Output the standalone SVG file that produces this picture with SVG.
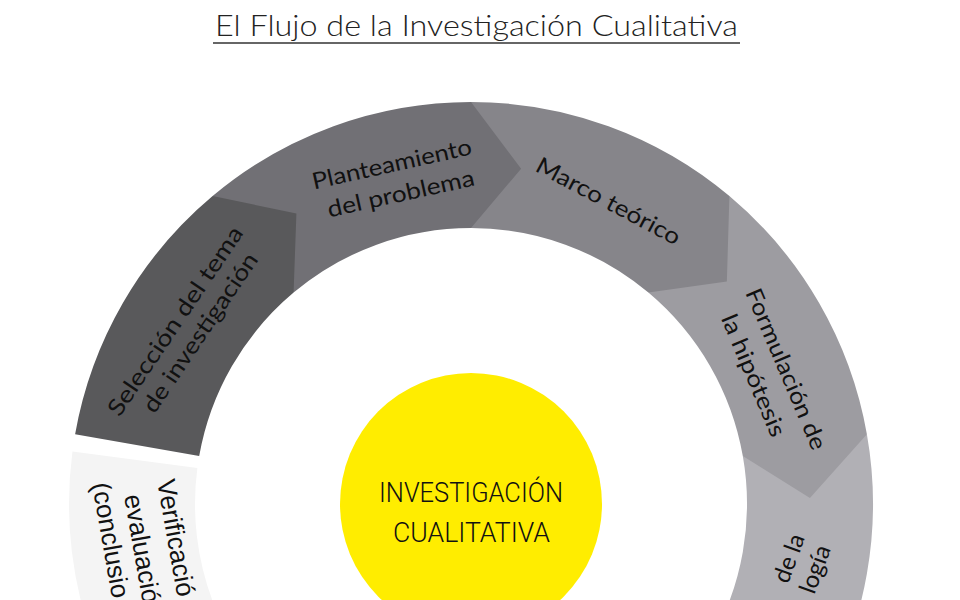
<svg xmlns="http://www.w3.org/2000/svg" width="960" height="600" viewBox="0 0 960 600">
<style>
.lbl{font-family:Lato,"Noto Sans","DejaVu Sans",sans-serif;font-weight:400;font-size:23px;fill:#111;text-anchor:middle}
.lbl2{font-family:"Liberation Sans",Arial,sans-serif;font-size:26px;fill:#111}
.title{font-family:Lato,"Open Sans","DejaVu Sans",sans-serif;font-weight:300;font-size:30px;fill:#222}
.ctr{font-family:"Liberation Sans Narrow","Roboto","Liberation Sans",sans-serif;font-weight:300;font-size:28px;fill:#111;text-anchor:middle}
</style>
<rect width="960" height="600" fill="#ffffff"/>
<g id="title">
<text class="title" x="215" y="36" textLength="523" lengthAdjust="spacingAndGlyphs">El Flujo de la Investigación Cualitativa</text>
<line x1="213" y1="43" x2="740" y2="43" stroke="#333" stroke-width="1.5"/>
</g>
<g id="connectors"></g>
<g id="node-verificacion">
<path d="M212.60,811.95 A402,402 0 0 1 72.44,451.53 L197.36,467.97 A276,276 0 0 0 293.59,715.43 Z" fill="#f4f4f4"/>
<text class="lbl2" transform="translate(157,481) rotate(80)">Verificació</text>
<text class="lbl2" transform="translate(124,496) rotate(80)">evaluació</text>
<text class="lbl2" transform="translate(92,484) rotate(80)">(conclusio</text>
</g>
<g id="node-metodologia">
<path d="M866.89,434.19 A402,402 0 0 1 819.14,705 L734.45,717.34 L710.02,642 A276,276 0 0 0 742.81,456.07 Z" fill="#b1b0b5"/>
<text class="lbl" style="font-size:24px" transform="translate(791,559) rotate(-70)" y="6">de la</text>
<text class="lbl" style="font-size:24px" transform="translate(817,570) rotate(-70)" y="6">logía</text>
</g>
<g id="node-formulacion">
<path d="M729.40,196.05 A402,402 0 0 1 866.89,434.19 L809.95,498.08 L742.81,456.07 A276,276 0 0 0 648.41,292.57 Z" fill="#9d9ca1"/>
<text class="lbl" transform="translate(785.3,369.3) rotate(67)" y="7" textLength="173" lengthAdjust="spacingAndGlyphs">Formulación de</text>
<text class="lbl" transform="translate(752.7,375.7) rotate(67)" y="7" textLength="131" lengthAdjust="spacingAndGlyphs">la hipótesis</text>
</g>
<g id="node-marco">
<path d="M471,102 A402,402 0 0 1 729.40,196.05 L726.85,281.60 L648.41,292.57 A276,276 0 0 0 471,228 Z" fill="#86858a"/>
<text class="lbl" transform="translate(608,202) rotate(28)" y="7" textLength="160" lengthAdjust="spacingAndGlyphs">Marco teórico</text>
</g>
<g id="node-planteamiento">
<path d="M212.60,196.05 A402,402 0 0 1 471,102 L521.11,168.72 L471,228 A276,276 0 0 0 293.59,292.57 Z" fill="#717075"/>
<text class="lbl" transform="translate(392,165) rotate(-12.5)" y="7" textLength="163" lengthAdjust="spacingAndGlyphs">Planteamiento</text>
<text class="lbl" transform="translate(401,194.5) rotate(-12.5)" y="7" textLength="150" lengthAdjust="spacingAndGlyphs">del problema</text>
</g>
<g id="node-seleccion">
<path d="M75.11,434.19 A402,402 0 0 1 212.60,196.05 L296.40,213.42 L293.59,292.57 A276,276 0 0 0 199.19,456.07 Z" fill="#59595b"/>
<text class="lbl" transform="translate(176,321.5) rotate(-56)" y="7" textLength="223" lengthAdjust="spacingAndGlyphs">Selección del tema</text>
<text class="lbl" transform="translate(201,333) rotate(-56)" y="7" textLength="187" lengthAdjust="spacingAndGlyphs">de investigación</text>
</g>
<g id="node-center">
<circle cx="471" cy="504" r="131" fill="#ffed00"/>
<text class="ctr" x="471" y="502" textLength="184" lengthAdjust="spacingAndGlyphs">INVESTIGACIÓN</text>
<text class="ctr" x="471.5" y="542" textLength="157" lengthAdjust="spacingAndGlyphs">CUALITATIVA</text>
</g>
</svg>
